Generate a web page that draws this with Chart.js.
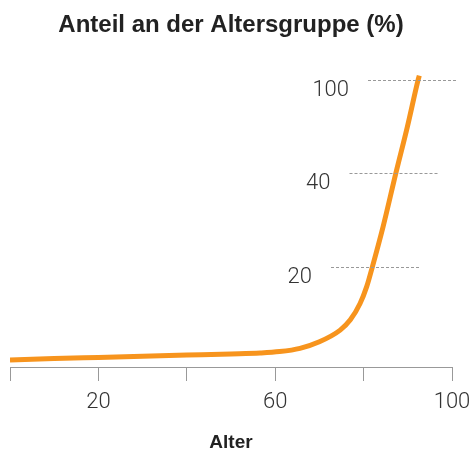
<!DOCTYPE html>
<html>
<head>
<meta charset="utf-8">
<script src="https://cdn.jsdelivr.net/npm/chart.js@4.4.1/dist/chart.umd.min.js"></script>
<style>
  html, body { margin: 0; padding: 0; background: #fff; }
  #wrap { width: 472px; height: 455px; }
</style>
</head>
<body>
<div id="wrap"><canvas id="chart" width="472" height="455"></canvas></div>
<script>
// Alter (Jahre) und Anteil an der Altersgruppe (%)
const ages = [0, 10, 20, 30, 40, 50, 56.6, 61, 65.6, 70, 74.7, 77, 79.2, 80.7, 82, 84.4, 87.3, 89.9, 92.35, 92.6];
const shares = [0, 0.3, 0.55, 0.8, 1.05, 1.3, 1.5, 1.8, 2.5, 3.9, 6.4, 8.6, 12.1, 15.7, 20, 28.5, 40, 69.7, 100, 102.6];

// the y axis is stretched: 0, 20, 40 and 100 are evenly spaced
const yLevels = [0, 20, 40, 100];
const yTicks = [20, 40, 100];
const xTicksShown = [20, 60, 100];

const orange = '#f7941d';
const tickFont = { family: 'Roboto, "Liberation Sans", sans-serif', size: 22, weight: '300', lineHeight: 40 / 22 };

function toPos(v) {
    for (let i = 1; i < yLevels.length; i++) {
        if (v <= yLevels[i] || i === yLevels.length - 1) {
            return (i - 1) + (v - yLevels[i - 1]) / (yLevels[i] - yLevels[i - 1]);
        }
    }
}

// labels and short dashed lines, shifted right one step per level
const slantedGrid = {
    id: 'slantedGrid',
    afterDraw(chart) {
        const ctx = chart.ctx;
        const y = chart.scales.y;
        ctx.save();
        yTicks.forEach((v, i) => {
            const py = Math.round(y.getPixelForValue(toPos(v))) + 0.5;
            const right = 312 + 18.5 * i;
            ctx.strokeStyle = '#999';
            ctx.lineWidth = 1;
            ctx.setLineDash([3, 2]);
            ctx.beginPath();
            ctx.moveTo(right + 19, py);
            ctx.lineTo(right + 108, py);
            ctx.stroke();
            ctx.fillStyle = '#333';
            ctx.font = `${tickFont.weight} ${tickFont.size}px ${tickFont.family}`;
            ctx.textAlign = 'right';
            ctx.textBaseline = 'middle';
            ctx.fillText(String(v), right, py + 10);
        });
        ctx.restore();
    }
};

new Chart(document.getElementById('chart'), {
    type: 'line',
    data: {
        datasets: [{
            data: ages.map((a, i) => ({ x: a, y: toPos(shares[i]) })),
            borderColor: orange,
            borderWidth: 5,
            pointRadius: 0,
            cubicInterpolationMode: 'monotone',
            fill: false
        }]
    },
    options: {
        responsive: false,
        animation: false,
        layout: { padding: { left: 10, right: 20, top: 0, bottom: 0 } },
        plugins: {
            legend: { display: false },
            tooltip: { enabled: false },
            title: {
                display: true,
                text: 'Anteil an der Altersgruppe (%)',
                color: '#222',
                font: { family: '"Liberation Sans", sans-serif', size: 24, weight: 'bold' },
                padding: { top: 11, bottom: 21.2 }
            }
        },
        scales: {
            x: {
                type: 'linear',
                min: 0,
                max: 100,
                grid: { drawOnChartArea: false, drawTicks: true, tickLength: 14, color: '#999' },
                border: { display: true, color: '#999' },
                ticks: {
                    stepSize: 20,
                    padding: 1,
                    color: '#333',
                    font: tickFont,
                    callback: v => xTicksShown.includes(v) ? String(v) : ''
                },
                title: {
                    display: true,
                    text: 'Alter',
                    color: '#222',
                    font: { family: '"Liberation Sans", sans-serif', size: 19, weight: 'bold' },
                    padding: { top: 8.2, bottom: 1 }
                }
            },
            y: {
                display: false,
                min: -0.075,
                max: 3.2
            }
        }
    },
    plugins: [slantedGrid]
});
</script>
</body>
</html>
